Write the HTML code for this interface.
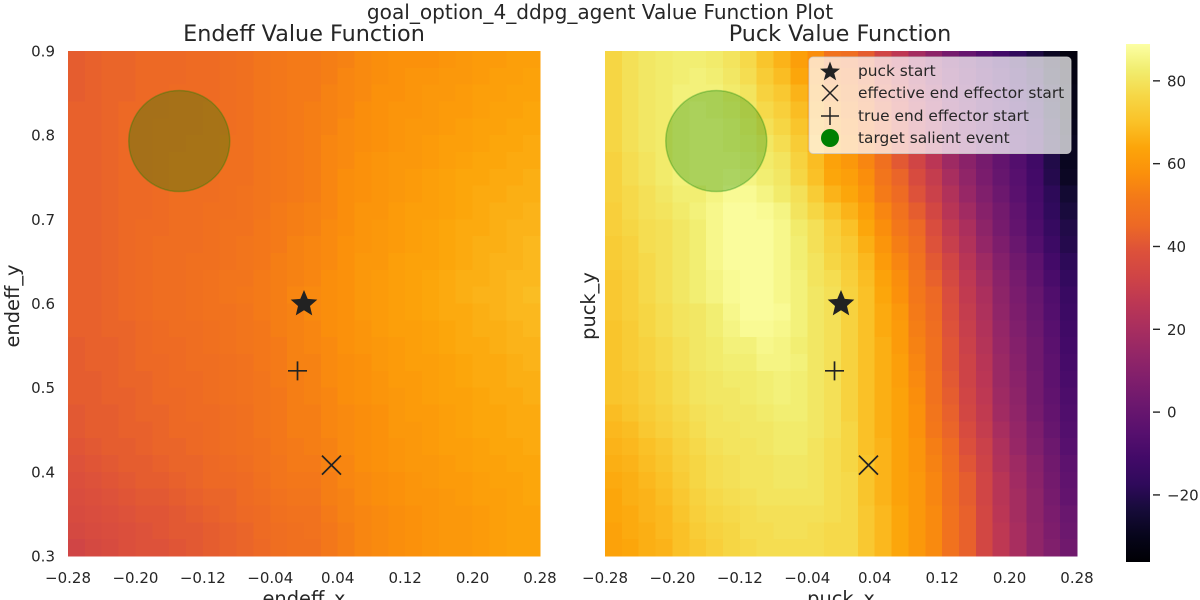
<!DOCTYPE html>
<html>
<head>
<meta charset="utf-8">
<title>goal_option_4_ddpg_agent Value Function Plot</title>
<style>
html,body{margin:0;padding:0;background:#fff;width:1200px;height:600px;overflow:hidden}
svg{display:block}
text{font-family:"DejaVu Sans","Liberation Sans",sans-serif;fill:#262626}
</style>
</head>
<body>
<svg id="chart" width="1200" height="600" viewBox="0 0 1200 600" xmlns="http://www.w3.org/2000/svg">
<defs>
<linearGradient id="inferno-gradient" x1="0" y1="1" x2="0" y2="0">
<stop offset="0" stop-color="#000004"/><stop offset="0.05" stop-color="#07051b"/><stop offset="0.1" stop-color="#160b39"/><stop offset="0.15" stop-color="#2f0a5b"/><stop offset="0.2" stop-color="#420a68"/><stop offset="0.25" stop-color="#57106e"/><stop offset="0.3" stop-color="#6a176e"/><stop offset="0.35" stop-color="#7f1e6c"/><stop offset="0.4" stop-color="#932667"/><stop offset="0.45" stop-color="#a82e5f"/><stop offset="0.5" stop-color="#bc3754"/><stop offset="0.55" stop-color="#cf4446"/><stop offset="0.6" stop-color="#dd513a"/><stop offset="0.65" stop-color="#ed6925"/><stop offset="0.7" stop-color="#f37819"/><stop offset="0.75" stop-color="#fb900b"/><stop offset="0.8" stop-color="#fca50a"/><stop offset="0.85" stop-color="#fac228"/><stop offset="0.9" stop-color="#f6d746"/><stop offset="0.95" stop-color="#f1ed6f"/><stop offset="1" stop-color="#fcffa4"/>
</linearGradient>
</defs>
<text x="600" y="19" text-anchor="middle" font-size="20.1">goal_option_4_ddpg_agent Value Function Plot</text>
<text x="304" y="41" text-anchor="middle" font-size="22.3">Endeff Value Function</text>
<text x="840" y="41" text-anchor="middle" font-size="22.3">Puck Value Function</text>
<g id="left-heatmap"></g>
<g id="right-heatmap"></g>
<g id="axes"></g>
<text x="304" y="605" text-anchor="middle" font-size="19.4">endeff_x</text>
<text x="841" y="605" text-anchor="middle" font-size="19.4">puck_x</text>
<text transform="translate(19,306) rotate(-90)" text-anchor="middle" font-size="19.4">endeff_y</text>
<text transform="translate(595,306) rotate(-90)" text-anchor="middle" font-size="19.4">puck_y</text>
<g id="markers"></g>
<g>
<rect x="809" y="57" width="262" height="96.5" rx="4" fill="#ffffff" fill-opacity="0.72" stroke="#cccccc" stroke-opacity="0.8" stroke-width="1"/>
<polygon points="830,61.5 832.6,68.4 840,68.7 834.2,73.3 836.2,80.4 830,76.3 823.8,80.4 825.8,73.3 820,68.7 827.4,68.4" fill="#222222"/>
<path d="M822 85L838 101M838 85L822 101" stroke="#222222" stroke-width="1.5" fill="none"/>
<path d="M821 116H839M830 107V125" stroke="#222222" stroke-width="1.5" fill="none"/>
<circle cx="830" cy="138" r="9" fill="#008000"/>
<text x="858" y="76" font-size="15.4">puck start</text>
<text x="858" y="98" font-size="15.4">effective end effector start</text>
<text x="858" y="121" font-size="15.4">true end effector start</text>
<text x="858" y="143" font-size="15.4">target salient event</text>
</g>
<rect x="1126" y="44" width="24" height="518" fill="url(#inferno-gradient)"/>
<g id="colorbar-axis"></g>
</svg>
<script>
const xTickLabels = [-0.28, -0.20, -0.12, -0.04, 0.04, 0.12, 0.20, 0.28];
const yTickLabels = [0.3, 0.4, 0.5, 0.6, 0.7, 0.8, 0.9];
const colorbarTicks = [-20, 0, 20, 40, 60, 80];
const colorRange = [-36.2, 88.9];
const puckStart = [0.0, 0.6];
const effectiveStart = [0.0326, 0.408];
const trueStart = [-0.0077, 0.52];
const targetEvent = [-0.148, 0.793];

const endeffValues = [
[42,43,44,44,45,45,45,46,46,47,48,50,51,52,52,53,54,56,57,58,58,58,59,60,61,61,62,62],
[42,43,44,44,45,45,45,46,46,47,48,50,51,52,52,53,55,56,57,58,59,59,60,60,61,62,62,63],
[42,43,44,44,45,45,46,46,46,47,48,50,51,52,52,54,55,56,58,58,59,60,60,61,62,62,63,63],
[43,43,44,45,45,45,46,46,47,47,48,50,51,52,53,54,55,57,58,59,59,60,61,61,62,63,63,64],
[43,43,44,45,45,46,46,46,47,47,48,50,51,52,53,54,56,57,58,59,60,60,61,62,63,63,64,64],
[43,43,44,45,45,46,46,47,47,48,48,50,51,52,53,55,56,57,58,59,60,61,62,62,63,64,64,65],
[43,43,44,45,45,46,47,47,47,48,48,50,51,52,53,55,56,58,59,60,60,61,62,63,64,64,65,65],
[43,43,44,45,45,46,47,47,47,48,48,50,51,52,53,55,57,58,59,60,61,62,63,64,64,65,65,66],
[43,43,44,45,45,46,47,47,47,48,49,50,51,52,53,55,57,58,59,60,61,62,63,64,65,65,66,66],
[43,43,44,45,45,46,47,47,48,48,49,50,52,53,54,55,57,59,59,61,62,62,63,64,65,66,66,67],
[43,43,44,45,46,46,47,47,48,49,49,51,52,53,54,56,57,59,60,61,62,63,64,65,65,66,67,67],
[43,43,44,45,46,47,47,47,48,49,50,51,52,54,55,56,58,59,60,61,62,63,64,65,66,66,67,68],
[43,43,44,45,46,47,47,48,48,49,50,51,53,54,55,56,58,60,60,62,63,63,64,65,66,67,67,68],
[43,43,44,45,46,47,47,48,49,50,50,52,53,54,55,57,58,60,61,62,63,64,65,66,66,67,68,68],
[43,43,44,45,46,47,47,48,49,50,51,52,53,55,56,57,58,60,61,62,63,64,65,66,67,67,68,69],
[43,43,44,45,46,47,47,48,49,49,50,52,53,54,56,57,58,60,61,62,63,64,65,65,66,67,68,68],
[43,43,44,44,45,46,47,47,48,49,50,51,53,54,55,57,58,59,61,62,62,63,64,65,66,66,67,68],
[42,43,43,44,45,46,46,47,48,49,50,51,52,54,55,56,58,59,60,61,62,63,64,65,65,66,67,67],
[42,43,43,44,45,45,46,47,47,48,49,51,52,54,54,56,57,58,60,61,62,62,63,64,65,65,66,67],
[42,42,43,44,44,45,46,46,47,48,49,50,52,53,54,56,57,58,59,61,61,62,63,64,65,65,66,66],
[42,42,43,43,44,45,45,46,47,48,49,50,51,53,54,55,57,58,59,60,61,62,63,63,64,65,65,66],
[41,42,42,43,44,44,45,46,46,47,48,50,51,53,53,55,56,57,58,60,61,61,62,63,64,64,65,65],
[41,42,42,43,43,44,45,45,46,47,48,50,51,53,53,55,56,57,58,60,60,61,62,63,64,64,65,65],
[40,41,42,42,43,44,44,45,46,47,48,49,51,52,53,54,56,57,58,59,60,61,62,62,63,64,64,65],
[39,40,41,42,42,43,44,44,45,46,47,49,50,52,52,54,55,57,58,59,60,60,61,62,63,63,64,64],
[38,39,40,41,42,42,43,44,45,45,46,48,50,51,51,53,55,56,57,58,59,60,61,61,62,63,63,64],
[37,38,39,40,41,41,42,43,44,44,46,47,49,50,50,53,54,56,57,58,59,59,60,61,62,62,63,64],
[36,37,38,39,40,40,41,42,43,44,45,46,48,49,49,52,54,55,56,57,58,59,60,60,61,62,63,63],
[35,36,37,38,39,40,41,41,42,43,44,46,47,48,49,51,53,55,56,57,58,59,60,60,61,62,63,63],
[33,35,36,38,39,39,40,41,42,43,44,45,47,48,48,51,53,55,56,57,58,59,60,60,61,62,63,63]
];

const puckValues = [
[76,79,81,82,83,83,82,80,77,71,67,62,57,49,47,42,33,27,19,12,5,0,-6,-11,-17,-22,-28,-33],
[76,79,81,82,83,84,83,81,78,73,69,64,59,52,50,44,36,29,22,14,7,2,-4,-9,-15,-20,-27,-32],
[76,79,81,82,84,84,84,82,80,75,72,67,61,55,52,46,39,32,24,17,9,4,-2,-7,-13,-18,-25,-31],
[76,79,81,82,84,85,84,83,81,77,74,69,63,58,54,48,41,34,26,19,11,5,-1,-6,-11,-17,-24,-31],
[76,79,81,82,84,85,85,84,82,79,76,71,65,60,56,50,43,36,28,21,13,7,1,-4,-9,-15,-23,-30],
[76,79,81,82,84,85,85,84,83,81,78,73,67,62,58,52,45,38,31,23,15,9,3,-3,-8,-14,-22,-29],
[75,78,80,82,84,85,85,85,84,82,80,75,69,63,60,55,48,41,33,26,17,11,5,-1,-6,-12,-21,-29],
[75,78,80,82,84,85,85,86,85,83,81,76,70,64,62,57,50,44,36,29,20,13,6,0,-5,-11,-20,-28],
[75,77,79,81,83,83,85,87,87,85,82,79,73,67,64,59,52,46,39,31,23,15,8,2,-4,-10,-18,-25],
[74,77,79,80,82,84,86,88,88,87,85,80,76,71,67,62,55,49,42,34,25,18,10,4,-2,-9,-17,-23],
[74,76,78,79,81,83,86,88,88,88,86,82,79,74,70,64,57,51,45,37,28,21,12,5,-1,-8,-15,-21],
[73,75,78,79,81,83,86,88,88,88,86,83,79,75,72,66,59,53,47,39,30,23,14,7,1,-6,-13,-20],
[73,75,77,79,81,83,86,88,88,88,86,83,80,76,73,68,61,55,49,41,33,25,17,9,3,-3,-11,-18],
[72,74,77,79,81,83,85,87,88,88,86,84,80,78,74,69,63,57,50,43,35,27,19,11,5,-2,-9,-16],
[72,74,77,79,81,83,85,87,88,88,86,84,81,79,75,70,64,58,51,45,37,28,21,12,6,0,-7,-14],
[72,74,76,78,80,81,83,86,88,88,87,84,81,79,75,70,65,60,52,46,38,29,22,13,7,1,-6,-13],
[71,73,76,78,80,81,83,85,87,87,86,84,81,79,75,70,65,61,53,47,39,30,23,14,8,2,-5,-12],
[71,73,75,77,79,81,82,84,84,86,85,83,81,79,75,70,66,61,54,48,40,31,24,15,9,3,-4,-11],
[71,73,75,77,79,81,82,83,83,85,85,84,81,79,75,70,66,62,55,48,40,32,25,16,10,3,-3,-10],
[71,72,74,76,78,80,81,82,82,83,84,83,81,79,75,70,66,62,56,49,41,32,26,16,11,4,-3,-9],
[71,72,74,76,78,80,81,81,82,83,84,83,81,79,75,70,66,63,57,49,42,33,27,17,12,4,-2,-8],
[69,71,73,75,77,79,80,81,81,82,83,83,81,79,75,70,66,63,58,50,43,34,28,18,13,5,-1,-7],
[68,69,72,74,76,78,80,80,81,81,82,82,81,79,76,70,66,63,58,51,44,36,29,20,14,7,0,-6],
[67,68,70,72,75,77,79,80,80,81,82,82,80,78,76,70,67,63,59,53,46,38,31,22,15,8,2,-5],
[66,67,69,71,74,76,78,79,80,80,81,81,80,78,76,71,67,63,59,54,47,40,32,23,17,10,3,-3],
[65,66,68,70,73,76,78,79,80,80,81,81,80,78,77,71,67,63,60,55,48,42,33,25,18,11,4,-2],
[64,66,67,69,72,75,77,78,79,80,80,80,80,78,77,71,67,63,60,55,48,42,33,25,19,12,5,-1],
[64,65,67,68,71,74,76,77,78,79,79,79,79,78,77,72,68,64,60,56,49,43,34,26,19,12,6,1],
[63,65,66,68,70,73,75,76,78,78,79,79,78,77,77,72,68,64,60,56,49,43,34,27,20,13,7,2],
[63,64,66,67,70,72,74,76,77,78,78,78,78,77,77,72,68,64,60,56,49,43,34,27,20,13,8,3]
];

const SVG_NS = 'http://www.w3.org/2000/svg';
const infernoStops = ['#000004','#07051b','#160b39','#2f0a5b','#420a68','#57106e','#6a176e','#7f1e6c','#932667','#a82e5f','#bc3754','#cf4446','#dd513a','#ed6925','#f37819','#fb900b','#fca50a','#fac228','#f6d746','#f1ed6f','#fcffa4'];
const plotTop = 51, plotBottom = 556, plotWidth = 472;
const xDomain = [-0.28, 0.28], yDomain = [0.3, 0.9];
const cellStepX = 0.02, cellStepY = 0.02;

function xScale(v, left) { return left + (v - xDomain[0]) / (xDomain[1] - xDomain[0]) * plotWidth; }
function yScale(v) { return plotBottom - (v - yDomain[0]) / (yDomain[1] - yDomain[0]) * (plotBottom - plotTop); }
function colorbarY(v) { return 562 - (v - colorRange[0]) / (colorRange[1] - colorRange[0]) * 518; }
function hexRgb(h) { return [1, 3, 5].map(function (i) { return parseInt(h.substr(i, 2), 16); }); }
function colorFor(v) {
  var t = Math.max(0, Math.min(1, (v - colorRange[0]) / (colorRange[1] - colorRange[0]))) * (infernoStops.length - 1);
  var i = Math.min(Math.floor(t), infernoStops.length - 2), f = t - i;
  var a = hexRgb(infernoStops[i]), b = hexRgb(infernoStops[i + 1]);
  return 'rgb(' + a.map(function (c, k) { return Math.round(c + (b[k] - c) * f); }).join(',') + ')';
}
function svgEl(tag, attrs, parent) {
  var el = document.createElementNS(SVG_NS, tag);
  Object.keys(attrs).forEach(function (k) { el.setAttribute(k, attrs[k]); });
  parent.appendChild(el);
  return el;
}
function drawHeatmap(values, left, group) {
  values.forEach(function (row, i) {
    row.forEach(function (v, j) {
      var x0 = xScale(xDomain[0] + j * cellStepX, left), x1 = xScale(xDomain[0] + (j + 1) * cellStepX, left);
      var y0 = yScale(yDomain[1] - i * cellStepY), y1 = yScale(yDomain[1] - (i + 1) * cellStepY);
      var cell = svgEl('rect', { x: x0, y: y0, width: x1 - x0 + 0.4, height: y1 - y0 + 0.4, fill: colorFor(v), 'shape-rendering': 'crispEdges' }, group);
      
      
    });
  });
}
function formatX(v) { return (v < 0 ? '\u2212' : '') + Math.abs(v).toFixed(2); }
function drawAxes(left, showY, group) {
  xTickLabels.forEach(function (v) {
    var t = svgEl('text', { x: xScale(v, left), y: 583, 'text-anchor': 'middle', 'font-size': 15 }, group);
    
    
    t.textContent = formatX(v);
  });
  if (!showY) return;
  yTickLabels.forEach(function (v) {
    var t = svgEl('text', { x: 55, y: yScale(v) + 5.5, 'text-anchor': 'end', 'font-size': 15 }, group);
    
    
    t.textContent = v.toFixed(1);
  });
}
function starPoints(cx, cy, R) {
  var pts = [];
  for (var k = 0; k < 10; k++) {
    var r = k % 2 ? R * 0.45 : R, a = -Math.PI / 2 + k * Math.PI / 5;
    pts.push((cx + r * Math.cos(a)).toFixed(2) + ',' + (cy + r * Math.sin(a)).toFixed(2));
  }
  return pts.join(' ');
}
function drawMarkers(left, group) {
  var target = svgEl('circle', { cx: xScale(targetEvent[0], left), cy: yScale(targetEvent[1]), r: 50.5, fill: '#008000', 'fill-opacity': 0.3, stroke: '#008000', 'stroke-opacity': 0.3, 'stroke-width': 1.5 }, group);
  
  

  var star = svgEl('polygon', { points: starPoints(xScale(puckStart[0], left), yScale(puckStart[1]) + 0.5, 14), fill: '#222222' }, group);
  
  

  var ex = xScale(effectiveStart[0], left), ey = yScale(effectiveStart[1]);
  var cross = svgEl('path', { d: 'M' + (ex - 9.5) + ' ' + (ey - 9.5) + 'L' + (ex + 9.5) + ' ' + (ey + 9.5) + 'M' + (ex + 9.5) + ' ' + (ey - 9.5) + 'L' + (ex - 9.5) + ' ' + (ey + 9.5), stroke: '#222222', 'stroke-width': 1.7, fill: 'none' }, group);
  
  

  var tx = xScale(trueStart[0], left), ty = yScale(trueStart[1]);
  var plus = svgEl('path', { d: 'M' + (tx - 9.5) + ' ' + ty + 'H' + (tx + 9.5) + 'M' + tx + ' ' + (ty - 9.5) + 'V' + (ty + 9.5), stroke: '#222222', 'stroke-width': 1.7, fill: 'none' }, group);
  
  
}
function drawColorbarAxis(group) {
  colorbarTicks.forEach(function (v) {
    var y = colorbarY(v);
    var tick = svgEl('line', { x1: 1153, x2: 1160, y1: y, y2: y, stroke: '#262626', 'stroke-width': 1.4 }, group);
    
    
    var label = svgEl('text', { x: 1167, y: y + 5.5, 'font-size': 15 }, group);
    
    
    label.textContent = (v < 0 ? '\u2212' : '') + Math.abs(v);
  });
}
drawHeatmap(endeffValues, 68, document.getElementById('left-heatmap'));
drawHeatmap(puckValues, 605, document.getElementById('right-heatmap'));
drawAxes(68, true, document.getElementById('axes'));
drawAxes(605, false, document.getElementById('axes'));
drawMarkers(68, document.getElementById('markers'));
drawMarkers(605, document.getElementById('markers'));
drawColorbarAxis(document.getElementById('colorbar-axis'));
</script>
</body>
</html>
